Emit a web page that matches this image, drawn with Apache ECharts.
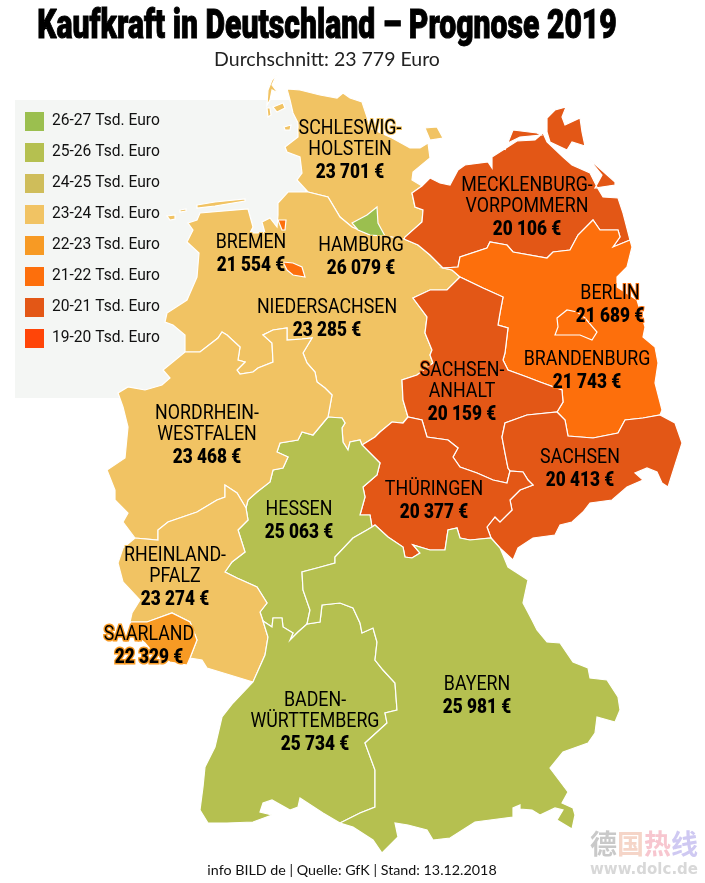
<!DOCTYPE html>
<html>
<head>
<meta charset="utf-8">
<title>Kaufkraft in Deutschland</title>
<style>
html, body { margin: 0; padding: 0; background: #fff; }
#chart { width: 705px; height: 883px; }
</style>
<script src="https://cdn.jsdelivr.net/npm/echarts@6/dist/echarts.min.js"></script>
</head>
<body>
<div id="chart"></div>
<script>
// werte
const regionNames = ['Schleswig-Holstein', 'Niedersachsen', 'Hamburg', 'Bremen', 'Mecklenburg-Vorpommern', 'Brandenburg', 'Berlin', 'Sachsen-Anhalt', 'Sachsen', 'Thueringen', 'Hessen', 'Nordrhein-Westfalen', 'Rheinland-Pfalz', 'Saarland', 'Baden-Wuerttemberg', 'Bayern'];
const regionValues = [23701, 23285, 26079, 21554, 20106, 21743, 21689, 20159, 20413, 20377, 25063, 23468, 23274, 22329, 25734, 25981];
const regionLabels = ['SCHLESWIG-\nHOLSTEIN', 'NIEDERSACHSEN', 'HAMBURG', 'BREMEN', 'MECKLENBURG-\nVORPOMMERN', 'BRANDENBURG', 'BERLIN', 'SACHSEN-\nANHALT', 'SACHSEN', 'THÜRINGEN', 'HESSEN', 'NORDRHEIN-\nWESTFALEN', 'RHEINLAND-\nPFALZ', 'SAARLAND', 'BADEN-\nWÜRTTEMBERG', 'BAYERN'];

const legendLabels = ['26-27 Tsd. Euro', '25-26 Tsd. Euro', '24-25 Tsd. Euro', '23-24 Tsd. Euro', '22-23 Tsd. Euro', '21-22 Tsd. Euro', '20-21 Tsd. Euro', '19-20 Tsd. Euro'];
const legendMin = [26000, 25000, 24000, 23000, 22000, 21000, 20000, 19000];
const legendMax = [27000, 26000, 25000, 24000, 23000, 22000, 21000, 20000];
const legendColors = ['#9bbf4f', '#b5c050', '#cfbd5a', '#f1c363', '#f79a24', '#fd6f0c', '#e35716', '#ff4508'];

// kartengeometrie in bildpixeln, gemeinsame grenzen nur einmal
const borders = {
    shCoast: [[308,192],[297,180],[302,173],[300,157],[287,152],[285,147],[298,137],[298,123],[293,113],[290,100],[287,89],[300,90],[320,95],[337,98],[343,93],[350,98],[362,102],[367,117],[370,128],[392,138],[410,148],[420,148],[428,143],[430,158],[413,172],[412,180],[422,186]],
    shMv: [[422,186],[412,193],[415,207],[423,210],[422,222],[405,237],[404,239]],
    shNi: [[404,239],[385,236],[370,235],[352,227],[340,217],[328,197],[308,192]],
    niMv: [[404,239],[418,245],[430,255],[440,265],[443,268]],
    niBb: [[443,268],[452,270],[460,277]],
    niSt: [[460,277],[447,290],[430,290],[413,298],[427,317],[425,333],[432,350],[430,355],[433,363],[417,375],[402,380],[403,400],[408,417]],
    niTh: [[408,417],[403,423],[392,422],[380,432],[375,437],[362,445]],
    niHe: [[362,445],[360,440],[350,442],[348,450],[343,442],[342,428],[345,423],[342,418],[328,417]],
    niNrw: [[328,417],[332,395],[325,388],[317,382],[315,372],[307,363],[303,353],[312,338],[302,339],[287,340],[287,328],[273,330],[263,335],[272,343],[273,362],[258,368],[253,372],[240,374],[237,370],[245,362],[238,360],[240,347],[227,335],[222,332],[218,338],[200,352],[185,352]],
    niCoast: [[185,352],[185,335],[173,325],[165,322],[167,313],[187,300],[197,277],[199,253],[187,242],[193,230],[188,223],[197,220],[200,213],[248,209],[253,227],[250,233],[265,233],[262,222],[270,218],[277,227],[278,215],[278,203],[288,192],[308,192]],
    mvCoast: [[422,186],[430,178],[440,183],[450,185],[458,170],[465,165],[488,162],[492,168],[492,157],[503,150],[517,141],[535,140],[543,133],[547,142],[563,157],[572,165],[590,173],[597,187],[603,197],[618,198],[623,213],[630,240]],
    bbMv: [[630,240],[613,247],[620,237],[618,230],[600,230],[593,220],[578,235],[570,250],[553,252],[547,258],[513,252],[507,245],[490,242],[487,248],[460,257],[458,267],[443,268]],
    bbSt: [[460,277],[483,288],[503,297],[500,313],[498,325],[508,328],[505,353],[503,360],[508,370],[527,377],[540,382],[562,390],[563,402],[557,412]],
    bbSn: [[557,412],[565,420],[568,436],[593,438],[618,433],[625,420],[643,418],[660,415]],
    bbCoast: [[660,415],[662,410],[655,383],[658,363],[655,347],[643,337],[645,327],[637,300],[617,287],[617,277],[627,267],[632,247],[630,240]],
    stSn: [[557,412],[527,415],[505,423],[502,437],[505,453],[508,468],[510,471]],
    stTh: [[510,471],[507,483],[493,480],[477,473],[460,467],[453,457],[458,448],[448,440],[427,437],[422,420],[408,417]],
    snCoast: [[660,415],[675,423],[682,443],[668,487],[662,483],[657,472],[647,468],[635,473],[643,480],[627,487],[612,500],[590,503],[583,512],[572,522],[560,525],[555,535],[533,538],[518,548],[513,560],[500,548]],
    snBy: [[500,548],[491,538]],
    thSn: [[510,471],[523,472],[528,480],[533,485],[520,490],[510,500],[512,510],[500,522],[495,517],[487,527],[491,538]],
    thHe: [[362,445],[380,463],[377,475],[363,487],[365,497],[360,515],[370,515],[372,527]],
    thBy: [[372,527],[375,525],[388,537],[403,547],[405,557],[412,558],[420,553],[413,545],[430,550],[445,550],[448,530],[457,528],[460,538],[470,540],[491,538]],
    heNrw: [[328,417],[313,435],[302,432],[298,440],[280,443],[277,452],[288,457],[283,468],[273,470],[270,482],[257,492],[248,500],[246,508]],
    heRp: [[246,508],[248,520],[238,530],[245,552],[232,562],[225,572],[237,578],[257,587],[267,603],[260,612],[263,621]],
    heBw: [[263,621],[272,627],[273,618],[282,618],[283,627],[293,633],[290,640],[298,632],[307,624]],
    heBy: [[307,624],[310,610],[303,590],[302,572],[317,568],[335,563],[335,557],[353,538],[367,530],[372,527]],
    nrwCoast: [[185,352],[163,370],[170,378],[162,385],[145,390],[128,387],[118,393],[123,407],[128,427],[125,458],[107,470],[115,490],[115,500],[128,513],[123,522],[135,538]],
    nrwRp: [[135,538],[158,540],[158,530],[168,522],[197,512],[217,500],[225,497],[225,485],[237,493],[246,508]],
    rpCoastW: [[135,538],[123,548],[118,563],[123,582],[140,600],[132,613],[130,622]],
    rpSaar: [[130,622],[147,622],[172,613],[190,622],[197,640],[190,658]],
    saarCoast: [[190,658],[187,665],[170,662],[155,655],[145,643],[135,635],[130,622]],
    rpCoastS: [[190,658],[202,660],[207,668],[230,675],[253,682]],
    rpBw: [[253,682],[265,655],[268,637],[263,621]],
    bwCoast: [[253,682],[233,703],[222,717],[215,747],[205,767],[203,787],[200,810],[208,823],[227,823],[253,822],[272,815],[260,812],[263,803],[272,800],[290,810],[298,807],[300,798],[323,813],[340,823]],
    bwBy: [[340,823],[360,813],[375,807],[375,770],[365,743],[387,723],[385,713],[397,710],[395,683],[383,670],[375,660],[377,642],[373,628],[362,633],[360,623],[353,608],[340,603],[322,605],[320,622],[307,624]],
    byCoast: [[500,548],[503,555],[508,567],[528,580],[523,603],[532,620],[537,630],[547,642],[560,643],[573,662],[588,668],[590,678],[607,680],[618,697],[620,710],[615,722],[597,717],[595,733],[588,743],[563,752],[550,768],[568,792],[562,803],[573,808],[575,815],[572,829],[557,820],[563,810],[555,808],[540,815],[532,810],[520,809],[520,805],[513,808],[513,817],[475,822],[450,838],[433,840],[427,830],[408,825],[395,823],[398,837],[382,853],[373,840],[353,827],[340,823]]
};

// ringe aus grenzstuecken, '-' heisst umgekehrt
const regionRings = {
    'Schleswig-Holstein': ['shCoast', 'shMv', 'shNi'],
    'Niedersachsen': ['-shNi', 'niMv', 'niBb', 'niSt', 'niTh', 'niHe', 'niNrw', 'niCoast'],
    'Mecklenburg-Vorpommern': ['-shMv', 'mvCoast', 'bbMv', '-niMv'],
    'Brandenburg': ['niBb', 'bbSt', 'bbSn', 'bbCoast', 'bbMv'],
    'Sachsen-Anhalt': ['-niSt', 'bbSt', 'stSn', 'stTh'],
    'Sachsen': ['bbSn', 'snCoast', 'snBy', '-thSn', '-stSn'],
    'Thueringen': ['niTh', 'thHe', 'thBy', '-thSn', 'stTh'],
    'Hessen': ['niHe', 'heNrw', 'heRp', 'heBw', 'heBy', '-thHe'],
    'Nordrhein-Westfalen': ['niNrw', 'nrwCoast', 'nrwRp', '-heNrw'],
    'Rheinland-Pfalz': ['-nrwRp', 'rpCoastW', 'rpSaar', 'rpCoastS', 'rpBw', '-heRp'],
    'Saarland': ['rpSaar', 'saarCoast'],
    'Baden-Wuerttemberg': ['-rpBw', 'bwCoast', 'bwBy', '-heBw'],
    'Bayern': ['heBy', 'thBy', '-snBy', 'byCoast', 'bwBy']
};

// inseln und stadtstaaten
const extraRings = {
    'Schleswig-Holstein': [
        [[277,74],[272,80],[268,90],[267,105],[270,100],[272,90],[278,93],[272,85]],
        [[273,107],[283,103],[285,108],[277,112]],
        [[267,108],[270,108],[271,115],[268,117]],
        [[284,127],[291,125],[290,130],[285,130]],
        [[425,128],[437,127],[443,138],[430,140]]
    ],
    'Niedersachsen': [
        [[167,216],[175,215],[175,219],[170,220]],
        [[180,210],[186,209],[186,211],[180,212]],
        [[197,205],[215,202],[245,199],[245,201],[215,206],[197,208]]
    ],
    'Mecklenburg-Vorpommern': [
        [[547,118],[555,110],[566,107],[562,117],[565,125],[580,118],[582,132],[585,146],[572,142],[567,150],[550,142],[547,132]],
        [[513,130],[537,133],[541,135],[520,137],[508,143],[505,150]],
        [[588,158],[615,182],[615,185],[595,188],[602,175]]
    ],
    'Hamburg': [[[352,223],[367,215],[377,207],[378,223],[385,236],[370,235],[358,230]]],
    'Bremen': [
        [[283,262],[293,263],[302,267],[305,277],[293,275],[287,270]],
        [[278,220],[286,220],[285,230],[282,230]]
    ],
    'Berlin': [[[557,318],[567,310],[577,312],[585,318],[597,332],[592,340],[580,335],[555,335],[558,327]]]
};

const labelCenters = {
    'Schleswig-Holstein': [350,150], 'Niedersachsen': [327,318], 'Hamburg': [361,256], 'Bremen': [251,253],
    'Mecklenburg-Vorpommern': [527,207], 'Brandenburg': [587,370], 'Berlin': [610,304], 'Sachsen-Anhalt': [462,392],
    'Sachsen': [580,468], 'Thueringen': [434,500], 'Hessen': [299,520], 'Nordrhein-Westfalen': [207,435],
    'Rheinland-Pfalz': [175,577], 'Saarland': [149,645], 'Baden-Wuerttemberg': [315,722], 'Bayern': [477,695]
};

function buildRing(parts) {
    let ring = [];
    parts.forEach((part)=> {
        const reversed = part[0] === '-';
        const pts = borders[reversed ? part.slice(1) : part].slice();
        if (reversed) {
            pts.reverse();
        }
        ring = ring.concat(pts);
    });
    return ring;
}

const features = regionNames.map((name)=> {
    const polygons = [];
    if (regionRings[name]) {
        polygons.push([buildRing(regionRings[name])]);
    }
    (extraRings[name] || []).forEach((ring)=> {
        polygons.push([ring.concat([ring[0]])]);
    });
    return {
        type: 'Feature',
        properties: {name: name},
        geometry: {type: 'MultiPolygon', coordinates: polygons}
    };
});

echarts.registerMap('germany', {type: 'FeatureCollection', features: features});

function colorFor(value) {
    const i = legendMin.findIndex((min, idx)=> value >= min && value < legendMax[idx]);
    return legendColors[i];
}

function formatEuro(value) {
    const s = String(value);
    return s.slice(0, 2) + ' ' + s.slice(2) + ' €';
}

const textFont = 'Roboto';

// beschriftung als custom series, damit der text schmal gezogen werden kann
function renderRegionLabel(params, api) {
    const i = api.value(2);
    const pt = api.coord([api.value(0), api.value(1)]);
    const lines = regionLabels[i].split('\n');
    const height = (lines.length - 1) * 21 + 23;
    const top = pt[1] - height / 2 + 1;
    const name = regionNames[i];
    const saar = name === 'Saarland';
    const onNi = name === 'Hamburg' || name === 'Bremen';
    const halo = onNi ? legendColors[3] : colorFor(regionValues[i]);
    const children = lines.map((line, n)=> ({
        type: 'text',
        x: pt[0],
        y: top + n * 21,
        scaleX: 0.89,
        silent: true,
        style: {
            text: line,
            font: '400 20px ' + textFont,
            fill: '#000',
            stroke: halo,
            lineWidth: saar ? 3 : 2,
            textAlign: 'center',
            textVerticalAlign: 'middle'
        }
    }));
    children.push({
        type: 'text',
        x: pt[0],
        y: top + height,
        scaleX: 0.86,
        silent: true,
        style: {
            text: formatEuro(regionValues[i]),
            font: '900 20px ' + textFont,
            fill: '#000',
            stroke: halo,
            lineWidth: saar ? 3 : 2,
            textAlign: 'center',
            textVerticalAlign: 'middle'
        }
    });
    return {type: 'group', children: children};
}

const chart = echarts.init(document.getElementById('chart'));

chart.setOption({
    animation: false,
    title: [
        {
            text: 'Durchschnitt: 23 779 Euro',
            left: 322, top: 45, textAlign: 'center',
            textStyle: {fontFamily: 'Lato', fontSize: 19.5, fontWeight: 'normal', color: '#222'}
        },
        {
            text: 'info BILD de | Quelle: GfK | Stand: 13.12.2018',
            left: 347, top: 858, textAlign: 'center',
            textStyle: {fontFamily: 'Lato', fontSize: 14.3, fontWeight: 'normal', color: '#111'}
        }
    ],
    graphic: [
        {type: 'rect', silent: true, shape: {x: 15, y: 100, width: 290, height: 298}, style: {fill: '#f4f6f4'}},
        {
            type: 'text', silent: true, x: 327, y: 28, scaleX: 0.735,
            style: {
                text: 'Kaufkraft in Deutschland – Prognose 2019',
                font: '900 41px Roboto',
                fill: '#000',
                stroke: '#000',
                lineWidth: 1,
                textAlign: 'center',
                textVerticalAlign: 'middle'
            }
        },
        {type: 'text', silent: true, x: 590, y: 830, style: {text: '德', font: 'bold 27px "Noto Sans CJK SC"', fill: '#c9c9c9'}},
        {type: 'text', silent: true, x: 617, y: 830, style: {text: '国', font: 'bold 27px "Noto Sans CJK SC"', fill: '#f5d5c8'}},
        {type: 'text', silent: true, x: 644, y: 830, style: {text: '热', font: 'bold 27px "Noto Sans CJK SC"', fill: '#f7c6cf'}},
        {type: 'text', silent: true, x: 671, y: 830, style: {text: '线', font: 'bold 27px "Noto Sans CJK SC"', fill: '#cfc9f2'}},
        {type: 'text', silent: true, x: 590, y: 863, style: {text: 'www.dolc.de', font: 'bold 15px "DejaVu Sans"', fill: '#d8d8d8'}}
    ],
    geo: {
        map: 'germany',
        silent: true,
        projection: {project: (p)=> p, unproject: (p)=> p},
        boundingCoords: [[0, 0], [705, 883]],
        aspectScale: 1,
        layoutCenter: ['50%', '50%'],
        layoutSize: 883,
        roam: false,
        label: {show: false},
        itemStyle: {borderColor: '#fff', borderWidth: 1.2, areaColor: '#f1c363'}
    },
    visualMap: {
        type: 'piecewise',
        seriesIndex: 0,
        left: 25, top: 112,
        padding: 0,
        orient: 'vertical',
        itemSymbol: 'rect',
        itemWidth: 19, itemHeight: 19, itemGap: 12, textGap: 8,
        align: 'left',
        selectedMode: false,
        hoverLink: false,
        textStyle: {fontFamily: textFont, fontSize: 15.6, color: '#111'},
        pieces: legendLabels.map((label, i)=> ({min: legendMin[i], max: legendMax[i], label: label, color: legendColors[i]}))
    },
    series: [
        {
            type: 'map',
            geoIndex: 0,
            silent: true,
            data: regionNames.map((name, i)=> ({name: name, value: regionValues[i]}))
        },
        {
            type: 'custom',
            coordinateSystem: 'geo',
            geoIndex: 0,
            z: 5,
            silent: true,
            renderItem: renderRegionLabel,
            data: regionNames.map((name, i)=> [labelCenters[name][0], labelCenters[name][1], i])
        }
    ]
});
</script>
</body>
</html>
